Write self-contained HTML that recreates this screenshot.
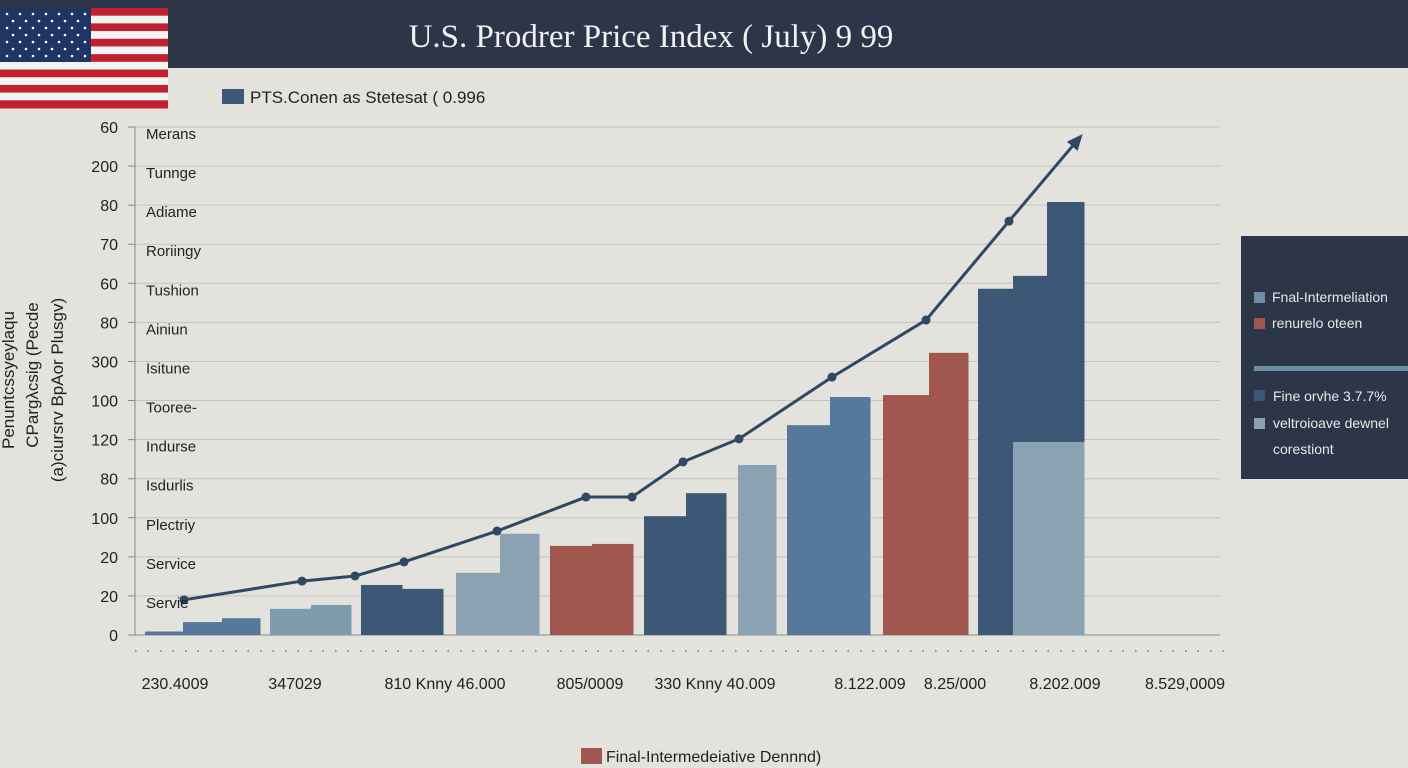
<!DOCTYPE html>
<html><head><meta charset="utf-8">
<style>
html,body{margin:0;padding:0;}
body{width:1408px;height:768px;background:#e3e2dc;position:relative;overflow:hidden;font-family:"Liberation Sans",sans-serif;}
svg{position:absolute;left:0;top:0;}
</style></head>
<body>
<svg id="chart" width="1408" height="768" xmlns="http://www.w3.org/2000/svg">
  <rect x="0" y="0" width="1408" height="68" fill="#2c3648"/>
  <text x="651" y="47" text-anchor="middle" font-family="Liberation Serif, serif" font-size="33" fill="#f2f2f2">U.S. Prodrer Price Index ( July) 9 99</text>
  <g id="flag"></g>
  <rect x="222" y="89" width="22" height="15" fill="#3d5877"/>
  <text x="250" y="103" font-size="17" fill="#222">PTS.Conen as Stetesat ( 0.996</text>
  <g id="grid"></g>
  <g id="bars"></g>
  <g id="line"></g>
  <g id="ylabels"></g>
  <g id="xlabels"></g>
  <g font-size="17" fill="#222">
    <text transform="translate(14,380) rotate(-90)" text-anchor="middle">Penuntcssyeylaqu</text>
    <text transform="translate(38,375) rotate(-90)" text-anchor="middle">CPargλcsig (Pecde</text>
    <text transform="translate(63,390) rotate(-90)" text-anchor="middle">(a)ciursrv BpAor Plusgv)</text>
  </g>
  <g>
    <rect x="1241" y="236" width="167" height="243" fill="#2c3648"/>
    <rect x="1254" y="292" width="11" height="11" fill="#6e8ea6"/>
    <text x="1272" y="302" font-size="14" fill="#e8e8e8">Fnal-Intermeliation</text>
    <rect x="1254" y="318" width="11" height="11" fill="#a0574f"/>
    <text x="1272" y="328" font-size="14" fill="#e8e8e8">renurelo oteen</text>
    <rect x="1254" y="366" width="154" height="5" fill="#6e8ea6"/>
    <rect x="1254" y="390" width="11" height="11" fill="#3d5877"/>
    <text x="1273" y="401" font-size="14" fill="#e8e8e8">Fine orvhe 3.7.7%</text>
    <rect x="1254" y="418" width="11" height="11" fill="#8aa2b2"/>
    <text x="1273" y="428" font-size="14" fill="#e8e8e8">veltroioave dewnel</text>
    <text x="1273" y="454" font-size="14" fill="#e8e8e8">corestiont</text>
  </g>
  <rect x="581" y="748" width="21" height="16" fill="#a0574f"/>
  <text x="606" y="762" font-size="16" fill="#222">Final-Intermedeiative Dennnd)</text>
</svg>
<script>
// ---- data ----
const yTickLabels = ["0","20","20","100","80","120","100","300","80","60","70","80","200","60"];
const rowLabels = ["Servie","Service","Plectriy","Isdurlis","Indurse","Tooree-","Isitune","Ainiun","Tushion","Roriingy","Adiame","Tunnge","Merans"];
const xLabels = ["230.4009","347029","810 Knny 46.000","805/0009","330 Knny 40.009","8.122.009","8.25/000","8.202.009","8.529,0009"];
const xLabelPos = [4,16,31,45.5,58,73.5,82,93,105];
// bar segments: start, end (period units), value, color group
const segStart = [1,4.8,8.7, 13.5,17.6, 22.6,26.7, 32.1,36.5, 41.5,45.7, 50.9,55.1, 60.3, 65.2,69.5, 74.8,79.4, 84.3,87.8,91.2, 87.8];
const segEnd   = [4.8,8.7,12.5, 17.6,21.6, 26.7,30.8, 36.5,40.4, 45.7,49.8, 55.1,59.1, 64.1, 69.5,73.5, 79.4,83.3, 87.8,91.2,94.9, 94.9];
const segValue = [0.9,3.3,4.3, 6.7,7.7, 12.8,11.8, 15.9,25.9, 22.8,23.3, 30.4,36.3, 43.5, 53.7,60.9, 61.4,72.2, 88.6,91.9,110.8, 49.4];
const segGroup = [0,0,0, 1,1, 2,2, 3,3, 4,4, 2,2, 3, 0,0, 4,4, 2,2,2, 3];
const linePeriod = [4.9,16.7,22,26.9,36.2,45.1,49.7,54.8,60.4,69.7,79.1,87.4];
const lineValue  = [9.0,13.8,15.1,18.7,26.6,35.3,35.3,44.3,50.2,66.0,80.6,105.9];
const arrowPeriod = 94.5, arrowValue = 127.4;
// ---- scales ----
const colors = ["#56789a","#7f9caf","#3d5877","#8aa2b2","#a0574f"];
const y0 = 635, yTop = 127, vMax = 130;
const y = v => y0 - v * (y0 - yTop) / vMax;
const x = t => 135 + t * 10;
const NS = "http://www.w3.org/2000/svg";
function mk(tag, attrs, parent){const e=document.createElementNS(NS,tag);for(const k in attrs)e.setAttribute(k,attrs[k]);parent.appendChild(e);return e;}
// flag
const flag=document.getElementById('flag');
for(let i=0;i<13;i++){const r=mk('rect',{x:0,y:8+i*100/13,width:168,height:100/13+0.5,fill:i%2?'#f4f4f4':'#c0202f'},flag);}
const cant=mk('rect',{x:0,y:8,width:91,height:54,fill:'#1f3566'},flag);

for(let r=0;r<7;r++)for(let c=0;c<(r%2?6:7);c++){const s=mk('circle',{cx:7+c*13+(r%2?6:0),cy:14+r*7,r:1.3,fill:'#fff'},flag);}
// grid & y labels
const grid=document.getElementById('grid'), yl=document.getElementById('ylabels');
for(let i=0;i<yTickLabels.length;i++){
  const v=i*10, yy=y(v);
  const g=mk('line',{x1:135,x2:1220,y1:yy,y2:yy,stroke:i===0?'#8a8a8a':'#c4c4be','stroke-width':1},grid);
  
  const tk=mk('line',{x1:128,x2:135,y1:yy,y2:yy,stroke:'#888'},yl);
  
  const t=mk('text',{x:118,y:yy+6,'text-anchor':'end','font-size':16,fill:'#222'},yl);t.textContent=yTickLabels[i];
  
  if(i<rowLabels.length){const rl=mk('text',{x:146,y:y(v+10)+12,'font-size':15,fill:'#222'},yl);rl.textContent=rowLabels[i];
  }
}
const ax=mk('line',{x1:135,x2:135,y1:yTop,y2:y0,stroke:'#888'},yl);

// bars
const bars=document.getElementById('bars');
for(let i=0;i<segValue.length;i++){
  const b=mk('rect',{x:x(segStart[i]),y:y(segValue[i]),width:x(segEnd[i])-x(segStart[i])+0.5,height:y0-y(segValue[i]),fill:colors[segGroup[i]]},bars);
  
}
// line
const lg=document.getElementById('line');
const pts=linePeriod.map((p,i)=>x(p)+','+y(lineValue[i])).join(' ')+' '+x(arrowPeriod)+','+y(arrowValue);
const pl=mk('polyline',{points:pts,fill:'none',stroke:'#2f4864','stroke-width':3},lg);

for(let i=0;i<linePeriod.length;i++){const c=mk('circle',{cx:x(linePeriod[i]),cy:y(lineValue[i]),r:4.5,fill:'#2f4864'},lg);
}
const ax2=x(arrowPeriod),ay2=y(arrowValue),pxp=x(linePeriod[linePeriod.length-1]),pyp=y(lineValue[lineValue.length-1]);
const ang=Math.atan2(ay2-pyp,ax2-pxp);
const ah=mk('polygon',{points:`${ax2+4*Math.cos(ang)},${ay2+4*Math.sin(ang)} ${ax2-12*Math.cos(ang)+7*Math.sin(ang)},${ay2-12*Math.sin(ang)-7*Math.cos(ang)} ${ax2-12*Math.cos(ang)-7*Math.sin(ang)},${ay2-12*Math.sin(ang)+7*Math.cos(ang)}`,fill:'#2f4864'},lg);

// x axis
const xg=document.getElementById('xlabels');
const dl=mk('line',{x1:135,x2:1225,y1:651,y2:651,stroke:'#777','stroke-width':1.5,'stroke-dasharray':'1.5 11'},xg);

for(let i=0;i<xLabels.length;i++){const t=mk('text',{x:x(xLabelPos[i]),y:689,'text-anchor':'middle','font-size':16,fill:'#222'},xg);t.textContent=xLabels[i];
}
</script>
</body></html>
